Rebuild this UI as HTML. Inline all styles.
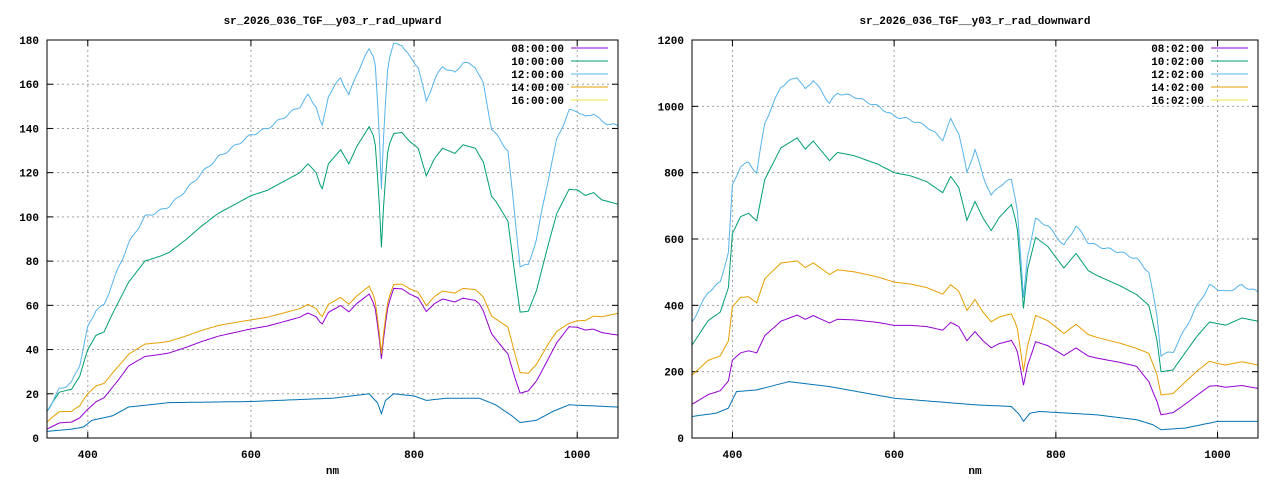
<!DOCTYPE html><html><head><meta charset="utf-8"><style>
body{margin:0;background:#fff}
text{font-family:"Liberation Mono",monospace;font-size:11px;font-weight:bold;fill:#000}
</style></head><body>
<svg id="s" width="1280" height="480" xmlns="http://www.w3.org/2000/svg"></svg>
<script>
const S=document.getElementById('s');let h='';
function interp(pts,x){for(let i=0;i<pts.length-1;i++){if(x>=pts[i][0]&&x<=pts[i+1][0]){const t=(x-pts[i][0])/(pts[i+1][0]-pts[i][0]);return pts[i][1]+t*(pts[i+1][1]-pts[i][1]);}}return x<pts[0][0]?pts[0][1]:pts[pts.length-1][1];}
function plot(o){
 const {x0,x1,y0,y1,ymax,ystep,title,lab,series}=o;
 const X=v=>x0+(v-350)/700*(x1-x0),Y=v=>y1-v/ymax*(y1-y0);
 h+=`<text x="${(x0+x1)/2}" y="24" text-anchor="middle">${title}</text>`;
 h+=`<text x="${(x0+x1)/2}" y="474" text-anchor="middle">nm</text>`;
 for(let v=0;v<=ymax;v+=ystep){const y=Y(v);
  if(v>0&&v<ymax)h+=`<line x1="${x0}" x2="${x1}" y1="${y}" y2="${y}" stroke="#a0a0a0" stroke-dasharray="2,3"/>`;
  h+=`<line x1="${x0}" x2="${x0+6}" y1="${y}" y2="${y}" stroke="#000"/><line x1="${x1}" x2="${x1-6}" y1="${y}" y2="${y}" stroke="#000"/>`;
  h+=`<text x="${x0-8}" y="${y+4}" text-anchor="end">${v}</text>`;}
 for(let v=400;v<=1000;v+=200){const x=X(v);
  h+=`<line x1="${x}" x2="${x}" y1="${y0}" y2="${y1}" stroke="#a0a0a0" stroke-dasharray="2,3"/>`;
  h+=`<line x1="${x}" x2="${x}" y1="${y1}" y2="${y1-6}" stroke="#000"/><line x1="${x}" x2="${x}" y1="${y0}" y2="${y0+6}" stroke="#000"/>`;
  h+=`<text x="${x}" y="${y1+20}" text-anchor="middle">${v}</text>`;}
 series.forEach(s=>{let p=[];for(let nm=350;nm<=1050;nm+=2.5){p.push(X(nm).toFixed(1)+','+Y(s.f(nm)).toFixed(1));}
  h+=`<polyline fill="none" stroke="${s.c}" stroke-width="1" points="${p.join(' ')}"/>`;});
 const cols=['#9400d3','#009e73','#56b4e9','#e69f00','#f0e442'];
 lab.forEach((l,i)=>{const y=52+i*13;h+=`<text x="${x1-54}" y="${y}" text-anchor="end">${l}</text><line x1="${x1-47}" x2="${x1-10}" y1="${y-4}" y2="${y-4}" stroke="${cols[i]}"/>`;});
 h+=`<rect x="${x0}" y="${y0}" width="${x1-x0}" height="${y1-y0}" fill="none" stroke="#000"/>`;
}
const bL=[[350,12],[365,22],[380,25],[390,33],[400,50],[410,58],[420,60],[430,70],[450,88],[470,100],[490,103],[500,105],[520,112],[540,120],[560,127],[580,132],[600,137],[620,140],[640,145],[660,150],[670,155],[680,150],[687,140],[695,155],[710,163],[720,155],[730,165],[745,176],[752,172],[757,140],[760,112],[763,140],[768,170],[775,178],[785,178],[795,172],[805,168],[815,152],[825,162],[835,168],[850,165],[860,170],[875,168],[885,160],[895,140],[905,135],[915,130],[925,95],[930,78],[940,78],[950,90],[965,118],[975,135],[990,148],[1000,148],[1010,145],[1020,147],[1030,143],[1050,141]];
const wig=nm=>Math.sin(nm*0.35)*0.6;
const rs=(b,r)=>nm=>interp(b,nm)*interp(r,nm);
plot({x0:47,x1:618,y0:40,y1:438,ymax:180,ystep:20,title:'sr_2026_036_TGF__y03_r_rad_upward',
 lab:['08:00:00','10:00:00','12:00:00','14:00:00','16:00:00'],
 series:[
 {c:'#9400d3',f:rs(bL,[[350,0.33],[400,0.26],[450,0.37],[600,0.36],[745,0.37],[760,0.32],[775,0.38],[880,0.37],[930,0.26],[990,0.34],[1050,0.33]])},
 {c:'#009e73',f:rs(bL,[[350,1],[400,0.8],[600,0.8],[745,0.8],[760,0.77],[800,0.78],[900,0.78],[930,0.73],[990,0.76],[1050,0.75]])},
 {c:'#56b4e9',f:nm=>interp(bL,nm)+wig(nm)},
 {c:'#e69f00',f:rs(bL,[[350,0.6],[400,0.4],[450,0.43],[600,0.39],[745,0.39],[760,0.34],[775,0.39],[880,0.4],[930,0.38],[990,0.35],[1050,0.4]])},
 {c:'#0072b2',f:nm=>interp([[350,3],[380,4],[395,5],[405,8],[430,10],[450,14],[500,16],[600,16.5],[700,18],[745,20],[755,16],[760,11],[765,17],[775,20],[800,19],[815,17],[840,18],[880,18],[900,15],[920,10],[930,7],[950,8],[970,12],[990,15],[1050,14]],nm)}
 ]});
const bR=[[350,350],[370,440],[385,470],[395,560],[400,760],[410,820],[420,830],[430,800],[440,950],[460,1060],[480,1090],[490,1050],[500,1080],[520,1010],[530,1040],[550,1030],[580,1000],[600,970],[620,960],[640,940],[660,900],[670,960],[680,920],[690,800],[700,870],[710,790],[720,730],[730,760],[745,780],[752,700],[760,420],[765,550],[775,660],[790,640],[810,580],[825,640],[840,590],[850,580],[880,560],[900,540],[915,500],[925,370],[930,250],[945,260],[960,330],[975,400],[990,460],[1010,440],[1030,460],[1050,440]];
plot({x0:692,x1:1258,y0:40,y1:438,ymax:1200,ystep:200,title:'sr_2026_036_TGF__y03_r_rad_downward',
 lab:['08:02:00','10:02:00','12:02:00','14:02:00','16:02:00'],
 series:[
 {c:'#9400d3',f:rs(bR,[[350,0.29],[480,0.34],[600,0.35],[760,0.38],[775,0.44],[900,0.4],[930,0.28],[1000,0.35],[1050,0.34]])},
 {c:'#009e73',f:rs(bR,[[350,0.8],[480,0.83],[700,0.82],[760,0.93],[900,0.8],[930,0.8],[990,0.76],[1050,0.8]])},
 {c:'#56b4e9',f:nm=>interp(bR,nm)+wig(nm)*6},
 {c:'#e69f00',f:rs(bR,[[350,0.54],[480,0.49],[700,0.48],[760,0.48],[775,0.56],[900,0.5],[930,0.52],[1000,0.5],[1050,0.5]])},
 {c:'#0072b2',f:nm=>interp([[350,65],[380,75],[395,90],[405,140],[430,145],[470,170],[520,155],[600,120],[700,100],[745,95],[755,70],[760,50],[768,75],[780,80],[850,70],[900,55],[920,40],[930,25],[960,30],[990,45],[1000,50],[1050,50]],nm)}
 ]});
S.innerHTML=h;
</script></body></html>
